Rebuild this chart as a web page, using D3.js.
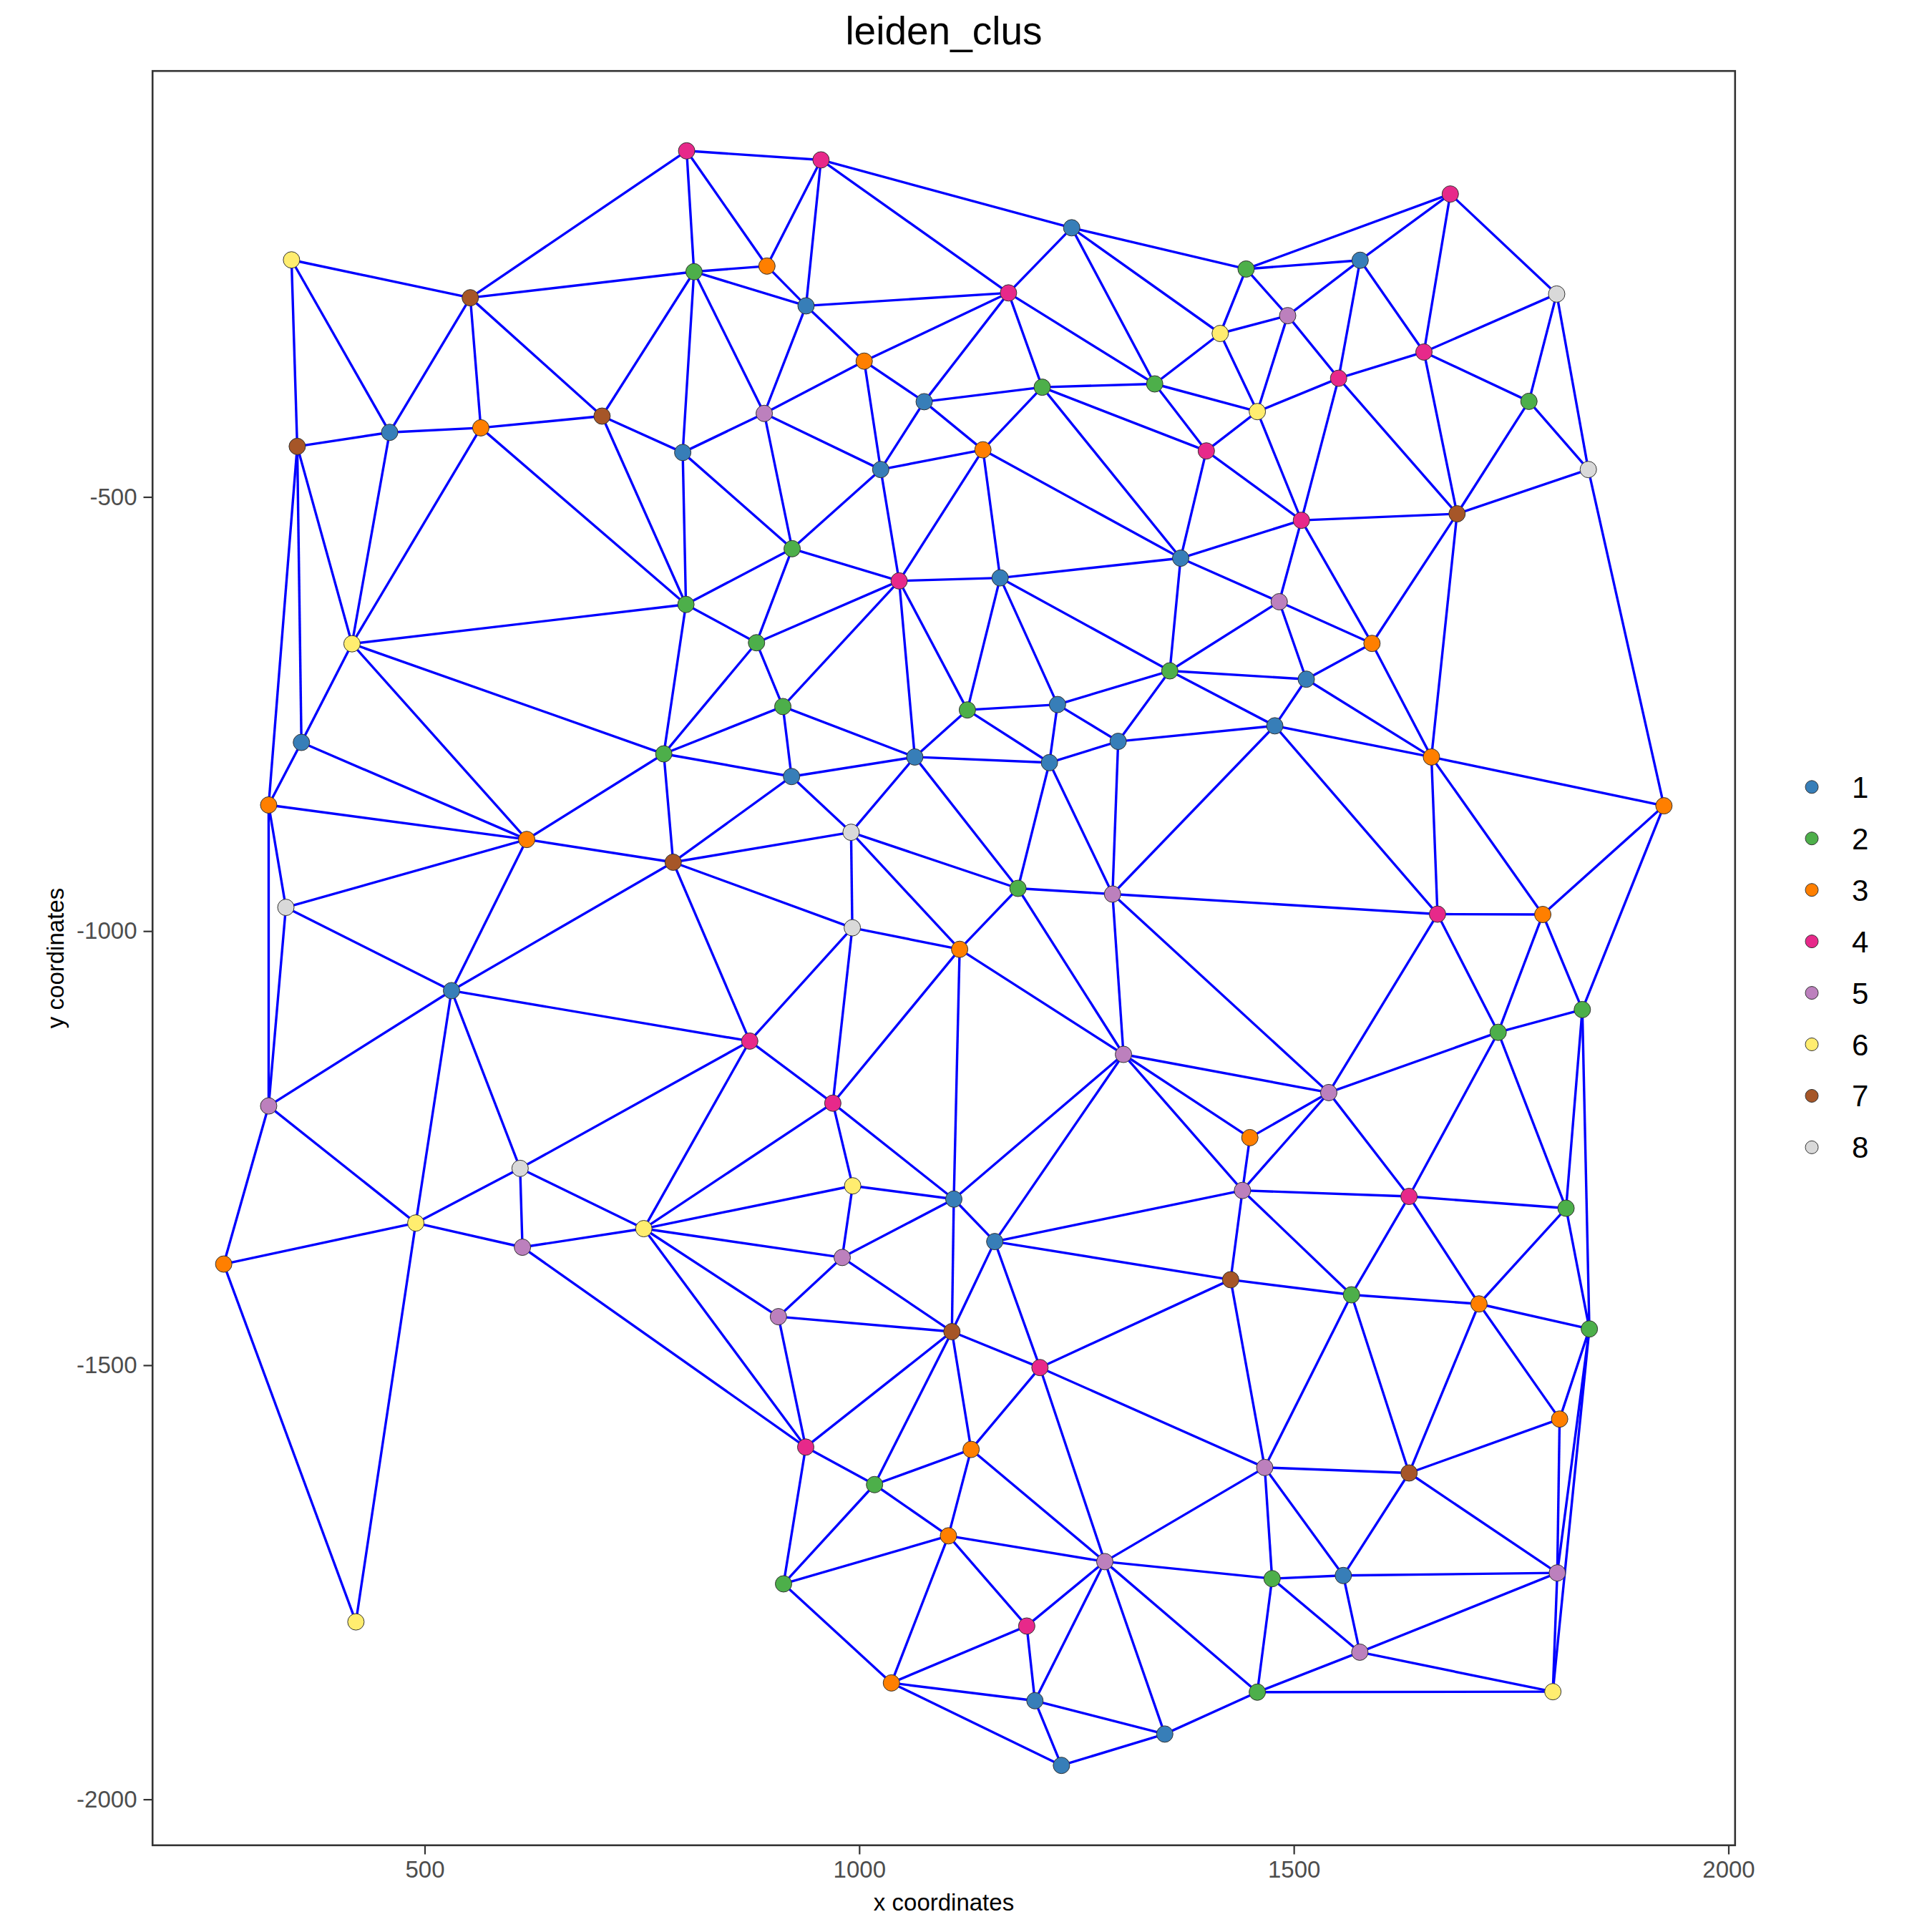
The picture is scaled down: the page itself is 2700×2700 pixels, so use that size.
<html>
<head>
<meta charset="utf-8">
<script src="https://cdn.jsdelivr.net/npm/d3@7/dist/d3.min.js"></script>
<style>
  body { margin: 0; background: #fff; }
  text { font-family: "Liberation Sans", Arial, sans-serif; }
</style>
</head>
<body onload="init()"></body>
<script>
  // cell centroids (spatial coordinates) and their leiden cluster
  var cellX = [801.4, 956.0, 1244.4, 1680.0, 346.8, 552.5, 809.9, 893.8, 938.8, 1171.7,
    1445.1, 1576.3, 1802.4, 1492.9, 1415.3, 1649.7, 1551.5, 1770.5, 1005.7, 1074.7,
    1210.5, 1339.9, 1458.0, 459.7, 564.6, 704.1, 353.4, 796.9, 890.7, 1024.7,
    1142.3, 1399.3, 1838.8, 1508.7, 1687.8, 922.8, 1369.8, 1045.9, 1162.1, 800.6,
    1483.2, 416.4, 881.8, 1589.9, 1357.3, 1514.3, 912.1, 1124.4, 1228.1, 358.2,
    1297.9, 1478.1, 775.1, 1063.9, 1218.8, 1658.3, 922.1, 320.5, 1925.8, 617.4,
    990.6, 785.9, 1182.6, 1291.4, 340.3, 1665.3, 1786.4, 992.0, 1115.5, 530.9,
    1831.9, 1735.1, 874.0, 1304.0, 1540.2, 320.5, 969.6, 1449.4, 609.8, 992.4,
    1440.9, 1632.5, 1108.8, 1813.2, 489.8, 752.1, 1155.9, 612.5, 268.8, 980.4,
    1427.3, 1566.3, 1713.0, 907.0, 1840.0, 1106.6, 1207.9, 1805.8, 938.4, 1128.7,
    1466.5, 1632.6, 1017.6, 1102.6, 1282.5, 1556.9, 1475.0, 1803.1, 912.9, 420.9,
    1192.7, 1575.9, 1037.0, 1458.0, 1798.0, 1202.1, 1351.5, 1232.6];

  var cellY = [-101.4, -111.8, -190.0, -151.1, -227.0, -270.6, -240.6, -234.1, -279.9, -265.0,
    -237.5, -227.4, -266.3, -291.2, -311.7, -333.1, -363.3, -389.9, -343.6, -390.3,
    -373.6, -369.8, -401.7, -425.6, -420.4, -406.9, -441.8, -448.8, -403.8, -468.4,
    -445.7, -447.0, -468.4, -526.9, -519.4, -559.6, -570.5, -596.7, -593.2, -623.8,
    -620.7, -669.1, -667.9, -668.7, -700.3, -709.9, -741.4, -745.3, -739.1, -782.7,
    -781.5, -763.6, -795.9, -799.5, -806.0, -799.5, -822.0, -854.8, -855.7, -894.5,
    -886.2, -920.7, -950.8, -957.4, -972.7, -980.5, -980.9, -996.2, -1021.0, -1068.6,
    -1090.4, -1116.6, -1126.7, -1142.0, -1186.0, -1201.4, -1198.2, -1237.9, -1273.3, -1293.4,
    -1298.7, -1305.6, -1308.7, -1319.2, -1336.2, -1342.7, -1357.6, -1364.1, -1383.5, -1375.9,
    -1401.5, -1418.9, -1429.4, -1444.1, -1458.2, -1461.3, -1502.7, -1562.0, -1594.3, -1597.0,
    -1617.8, -1624.1, -1637.5, -1696.5, -1726.2, -1742.2, -1745.8, -1739.2, -1751.8, -1795.6,
    -1800.4, -1830.5, -1865.9, -1876.5, -1876.0, -1886.4, -1924.8, -1960.9];

  var cellCluster = ["4", "4", "1", "4", "6", "7", "2", "3", "1", "4",
    "2", "1", "8", "5", "6", "4", "4", "2", "3", "1",
    "2", "2", "6", "1", "3", "7", "7", "1", "5", "1",
    "3", "4", "8", "4", "7", "2", "1", "4", "1", "2",
    "5", "6", "2", "3", "2", "1", "2", "2", "1", "1",
    "1", "1", "2", "1", "1", "3", "1", "3", "3", "3",
    "8", "7", "2", "5", "8", "4", "3", "8", "3", "1",
    "2", "2", "4", "5", "5", "5", "4", "3", "8", "6",
    "5", "4", "1", "2", "6", "6", "1", "5", "3", "5",
    "7", "2", "3", "5", "2", "7", "4", "3", "4", "3",
    "5", "7", "2", "3", "5", "1", "2", "5", "2", "6",
    "4", "5", "3", "2", "6", "1", "1", "1"];

  var clusters = ["1", "2", "3", "4", "5", "6", "7", "8"];
  var clusterColors = ["#377EB8", "#4DAF4A", "#FF7F00", "#E7298A", "#BC80BD", "#FFED6F", "#A65628", "#D9D9D9"];

  var xTicks = [500, 1000, 1500, 2000];
  var yTicks = [-500, -1000, -1500, -2000];

  // delaunay network: edges longer than this are dropped,
  // plus a few edges that differ from the plain triangulation
  var maxEdgeDistance = 468;
  var droppedEdges = [[116, 114], [2, 3], [2, 20], [34, 58]];
  var addedEdges = [[9, 21]];

  function init() {
    var W = 2700, H = 2700;
    var panel = { left: 212, right: 2426, top: 98, bottom: 2580 };

    var svg = d3.select("body").append("svg")
      .attr("width", W)
      .attr("height", H);

    svg.append("rect").attr("width", W).attr("height", H).attr("fill", "#fff");

    // ggplot style 5% expansion of the data range
    var xe = d3.extent(cellX), ye = d3.extent(cellY);
    var xp = (xe[1] - xe[0]) * 0.05, yp = (ye[1] - ye[0]) * 0.05;

    var x = d3.scaleLinear().domain([xe[0] - xp, xe[1] + xp]).range([panel.left, panel.right]);
    var y = d3.scaleLinear().domain([ye[0] - yp, ye[1] + yp]).range([panel.bottom, panel.top]);
    var color = d3.scaleOrdinal().domain(clusters).range(clusterColors);

    // build the network from the delaunay triangulation
    var delaunay = d3.Delaunay.from(d3.range(cellX.length), function (i) { return cellX[i]; }, function (i) { return cellY[i]; });
    var tri = delaunay.triangles;
    var keyOf = function (a, b) { return Math.min(a, b) + "-" + Math.max(a, b); };
    var skip = new Set(droppedEdges.map(function (e) { return keyOf(e[0], e[1]); }));
    var seen = new Set();
    var edges = [];
    for (var t = 0; t < tri.length; t += 3) {
      for (var k = 0; k < 3; k++) {
        var a = tri[t + k], b = tri[t + (k + 1) % 3];
        var key = keyOf(a, b);
        if (seen.has(key)) continue;
        seen.add(key);
        var d = Math.hypot(cellX[a] - cellX[b], cellY[a] - cellY[b]);
        if (d <= maxEdgeDistance && !skip.has(key)) edges.push([a, b]);
      }
    }
    addedEdges.forEach(function (e) { edges.push(e); });

    svg.append("g")
      .selectAll("line")
      .data(edges)
      .enter()
      .append("line")
      .attr("x1", function (e) { return x(cellX[e[0]]); })
      .attr("y1", function (e) { return y(cellY[e[0]]); })
      .attr("x2", function (e) { return x(cellX[e[1]]); })
      .attr("y2", function (e) { return y(cellY[e[1]]); })
      .attr("stroke", "#0000FF")
      .attr("stroke-width", 3.4);

    svg.append("g")
      .selectAll("circle")
      .data(d3.range(cellX.length))
      .enter()
      .append("circle")
      .attr("cx", function (i) { return x(cellX[i]); })
      .attr("cy", function (i) { return y(cellY[i]); })
      .attr("r", 11.5)
      .attr("fill", function (i) { return color(cellCluster[i]); })
      .attr("stroke", "#333")
      .attr("stroke-width", 1);

    // panel border
    svg.append("rect")
      .attr("x", panel.left + 1.2).attr("y", panel.top + 1.2)
      .attr("width", panel.right - panel.left - 2.4)
      .attr("height", panel.bottom - panel.top - 2.4)
      .attr("fill", "none")
      .attr("stroke", "#333333")
      .attr("stroke-width", 2.6);

    // axes
    var gx = svg.append("g")
      .attr("transform", "translate(0," + panel.bottom + ")")
      .call(d3.axisBottom(x).tickValues(xTicks).tickFormat(function (d) { return String(d); }).tickSize(11.5).tickPadding(9));
    var gy = svg.append("g")
      .attr("transform", "translate(" + panel.left + ",0)")
      .call(d3.axisLeft(y).tickValues(yTicks).tickFormat(function (d) { return String(d); }).tickSize(11.5).tickPadding(9));

    [gx, gy].forEach(function (g) {
      g.select(".domain").remove();
      g.selectAll(".tick line").attr("stroke", "#333333").attr("stroke-width", 2.2);
      g.selectAll(".tick text")
        .attr("fill", "#4D4D4D")
        .style("font-size", "33px")
        .style("font-family", "'Liberation Sans', Arial, sans-serif");
    });

    // titles
    svg.append("text")
      .attr("x", (panel.left + panel.right) / 2).attr("y", 62)
      .attr("text-anchor", "middle")
      .style("font-size", "55px")
      .text("leiden_clus");

    svg.append("text")
      .attr("x", (panel.left + panel.right) / 2).attr("y", 2670)
      .attr("text-anchor", "middle")
      .style("font-size", "33px")
      .text("x coordinates");

    svg.append("text")
      .attr("transform", "translate(89," + (panel.top + panel.bottom) / 2 + ") rotate(-90)")
      .attr("text-anchor", "middle")
      .style("font-size", "33px")
      .text("y coordinates");

    // legend
    var legend = svg.append("g")
      .selectAll("g")
      .data(clusters)
      .enter()
      .append("g")
      .attr("transform", function (c, i) { return "translate(2532," + (1099.8 + i * 71.94) + ")"; });

    legend.append("circle")
      .attr("r", 9)
      .attr("fill", function (c) { return color(c); })
      .attr("stroke", "#333")
      .attr("stroke-width", 1);

    legend.append("text")
      .attr("x", 56).attr("y", 15)
      .style("font-size", "42px")
      .text(function (c) { return c; });
  }
</script>
</html>
